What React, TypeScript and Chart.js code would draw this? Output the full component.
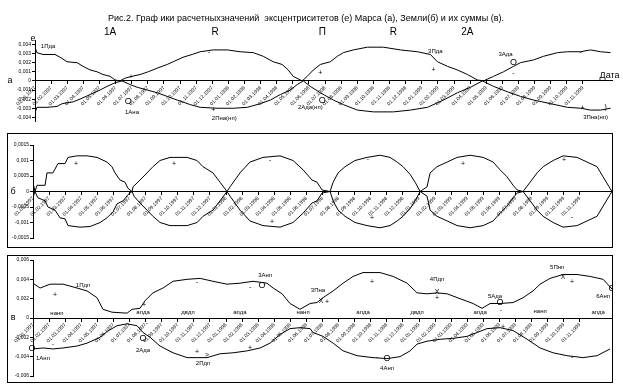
import { useEffect, useRef } from "react";
import { Chart, registerables } from "chart.js";
Chart.register(...registerables);

const FONT = "'Liberation Sans', Arial, sans-serif";

const titleText = "Рис.2. Граф ики расчетныхзначений  эксцентриситетов (е) Марса (а), Земли(б) и их суммы (в).";

const dateLabels = [
  "01.01.1997", "01.02.1997", "01.03.1997", "01.04.1997", "01.05.1997", "01.06.1997",
  "01.07.1997", "01.08.1997", "01.09.1997", "01.10.1997", "01.11.1997", "01.12.1997",
  "01.01.1998", "01.02.1998", "01.03.1998", "01.04.1998", "01.05.1998", "01.06.1998",
  "01.07.1998", "01.08.1998", "01.09.1998", "01.10.1998", "01.11.1998", "01.12.1998",
  "01.01.1999", "01.02.1999", "01.03.1999", "01.04.1999", "01.05.1999", "01.06.1999",
  "01.07.1999", "01.08.1999", "01.09.1999", "01.10.1999", "01.11.1999",
];

const yTicksA = [-0.004, -0.003, -0.002, -0.001, 0, 0.001, 0.002, 0.003, 0.004];
const yTicksB = [-0.0015, -0.001, -0.0005, 0, 0.0005, 0.001, 0.0015];
const yTicksC = [-0.006, -0.004, -0.002, 0, 0.002, 0.004, 0.006];

// Mars (a): [month, e]
const marsUpper: number[][] = [
  [0, 0.0037], [0.12, 0.0031], [0.5, 0.0029], [1.24, 0.0029], [1.55, 0.0026], [1.99, 0.0021], [2.61, 0.002],
  [2.98, 0.0016], [3.42, 0.0012], [3.85, 0.001], [4.22, 0.0007], [4.66, 0.0005], [4.97, 0.0001], [5.28, 0],
  [5.59, 0.0003], [6.02, 0.0005], [6.52, 0.0007], [7.02, 0.001], [7.58, 0.0014], [8.2, 0.0018], [8.57, 0.0021],
  [9.19, 0.0026], [9.75, 0.0029], [10.25, 0.0032], [11.06, 0.0034], [11.93, 0.0034], [12.73, 0.0032],
  [13.54, 0.0031], [14.16, 0.0027], [14.78, 0.0021], [15.34, 0.0018], [15.71, 0.0012], [16.02, 0.0005],
  [16.46, 0.0001], [16.58, 0], [16.89, 0.0005], [17.27, 0.0012], [17.7, 0.0018], [18.32, 0.0021],
  [18.76, 0.0027], [19.13, 0.0031], [19.75, 0.0034], [20.62, 0.0037], [21.61, 0.0037], [22.67, 0.0034],
  [23.73, 0.0032], [24.53, 0.0029], [24.97, 0.0021], [25.59, 0.0016], [26.21, 0.0012], [26.83, 0.0007],
  [27.45, 0.0001], [27.83, 0], [28.45, 0.0005], [29.07, 0.001], [29.69, 0.0016], [30.12, 0.002],
  [30.93, 0.0023], [31.55, 0.0027], [32.42, 0.0031], [33.04, 0.0032], [33.85, 0.0032], [34.47, 0.0034],
  [35.09, 0.0032], [35.71, 0.0031],
];
const marsLower: number[][] = [
  [0, -0.0035], [0.12, -0.0029], [0.75, -0.0029], [1.37, -0.0028], [1.68, -0.0025], [2.36, -0.0023],
  [2.92, -0.0019], [3.42, -0.0015], [4.04, -0.001], [4.47, -0.0006], [4.97, -0.0002], [5.4, 0],
  [5.9, -0.0004], [6.34, -0.0007], [6.96, -0.001], [7.58, -0.0013], [8.2, -0.0017], [8.82, -0.0021],
  [9.63, -0.0026], [10.25, -0.0029], [11.3, -0.003], [12.3, -0.003], [13.17, -0.0029], [13.98, -0.0025],
  [14.6, -0.0021], [15.22, -0.0015], [15.84, -0.001], [16.27, -0.0004], [16.65, 0], [17.08, -0.0006],
  [17.7, -0.0013], [18.51, -0.0021], [19.13, -0.0026], [20, -0.0032], [20.99, -0.0034], [22.24, -0.0034],
  [23.29, -0.0032], [24.35, -0.0029], [25.34, -0.0021], [26.21, -0.0013], [27.02, -0.0007], [27.76, 0],
  [28.45, -0.0006], [29.32, -0.0012], [30.12, -0.0017], [30.93, -0.0021], [31.99, -0.0025], [33.04, -0.0029],
  [33.85, -0.003], [34.47, -0.0032], [35.09, -0.0032], [35.71, -0.003],
];

// Earth (б)
const earthUpper: number[][] = [
  [0, 0.0003], [0.12, 0], [0.25, 0.0002], [0.75, 0.0002], [0.87, 0.0006], [1.24, 0.0006], [1.55, 0.0009],
  [1.99, 0.0009], [2.18, 0.0011], [2.74, 0.00115], [3.36, 0.00115], [3.98, 0.0011], [4.6, 0.00095],
  [4.91, 0.0008], [5.1, 0.0006], [5.41, 0.00037], [5.72, 0.0003], [5.91, 0.0001], [6.16, 0],
  [6.22, 0.00015], [6.65, 0.00037], [7.09, 0.0006], [7.46, 0.0008], [7.9, 0.001], [8.52, 0.0011],
  [9.58, 0.0011], [10.2, 0.001], [10.57, 0.0008], [11.19, 0.0006], [11.63, 0.0003], [12.06, 0],
  [12.25, 0.00015], [12.87, 0.0006], [13.49, 0.00095], [14.3, 0.0011], [15.36, 0.00115], [16.17, 0.001],
  [16.79, 0.0007], [17.35, 0.00037], [17.66, 0.0003], [17.97, 0.00005], [18.47, 0],
  [18.66, 0.0003], [18.97, 0.0006], [19.4, 0.0008], [20.02, 0.001], [20.77, 0.0011], [21.58, 0.00117],
  [22.2, 0.0011], [22.64, 0.00095], [23.01, 0.0008], [23.45, 0.00055], [23.76, 0.0003], [24.07, 0],
  [24.5, 0.00015], [24.69, 0.0006], [25.12, 0.0008], [25.75, 0.00095], [26.37, 0.0011], [27.18, 0.00117],
  [27.99, 0.0011], [28.61, 0.00095], [29.04, 0.0007], [29.48, 0.00047], [29.85, 0.0002], [30.1, 0.00005],
  [30.47, 0], [30.91, 0.0003], [31.34, 0.0006], [31.72, 0.0008], [32.34, 0.001], [32.96, 0.00115],
  [33.83, 0.0011], [34.45, 0.00095], [35.07, 0.0008], [35.45, 0.00047], [35.88, 0.0001], [36, 0],
];
const earthLower: number[][] = [
  [0, -0.0002], [0.12, 0], [0.3, -0.0002], [0.75, -0.0003], [0.93, -0.0005], [1.37, -0.0006], [1.68, -0.00085],
  [1.99, -0.00088], [2.18, -0.0011], [2.92, -0.00115], [3.55, -0.00113], [4.17, -0.001], [4.6, -0.00085],
  [4.98, -0.00065], [5.22, -0.0004], [5.6, -0.0003], [5.91, -0.0001], [6.16, 0],
  [6.28, -0.00015], [6.65, -0.00037], [7.09, -0.0006], [7.46, -0.0008], [7.9, -0.001], [8.52, -0.0011],
  [9.58, -0.0011], [10.2, -0.001], [10.57, -0.0008], [11.19, -0.0006], [11.63, -0.0003], [12.06, 0],
  [12.25, -0.00015], [12.87, -0.0006], [13.49, -0.00095], [14.3, -0.0011], [15.36, -0.00115], [16.17, -0.001],
  [16.79, -0.0007], [17.35, -0.00037], [17.66, -0.0003], [17.97, -0.00005], [18.47, 0],
  [18.66, -0.0003], [18.97, -0.0006], [19.4, -0.0008], [20.02, -0.001], [20.77, -0.0011], [21.58, -0.00117],
  [22.2, -0.0011], [22.64, -0.00095], [23.01, -0.0008], [23.45, -0.00055], [23.76, -0.0003], [24.07, 0],
  [24.5, -0.00015], [24.69, -0.0006], [25.12, -0.0008], [25.75, -0.00095], [26.37, -0.0011], [27.18, -0.00117],
  [27.99, -0.0011], [28.61, -0.00095], [29.04, -0.0007], [29.48, -0.00047], [29.85, -0.0002], [30.1, -0.00005],
  [30.47, 0], [30.91, -0.0003], [31.34, -0.0006], [31.72, -0.0008], [32.34, -0.001], [32.96, -0.00115],
  [33.83, -0.0011], [34.45, -0.00095], [35.07, -0.0008], [35.45, -0.00047], [35.88, -0.0001], [36, 0],
];

// Sum (в)
const sumUpper: number[][] = [
  [0, 0.0036], [0.44, 0.0031], [1.06, 0.0035], [1.87, 0.0035], [2.74, 0.0031], [3.36, 0.0028], [3.98, 0.0021],
  [4.35, 0.0009], [4.91, 0.0006], [5.85, 0.0005], [6.16, 0.0009], [6.65, 0.001], [6.97, 0.0018], [7.46, 0.0026],
  [8.08, 0.0031], [8.71, 0.0038], [9.58, 0.004], [10.39, 0.0041], [11.19, 0.0038], [12.06, 0.0035],
  [12.87, 0.0036], [13.68, 0.0038], [14.55, 0.0036], [14.93, 0.0031], [15.49, 0.0025], [15.98, 0.0015],
  [16.6, 0.0009], [17.23, 0.0015], [17.66, 0.0016], [18.03, 0.0021], [18.66, 0.0028], [19.28, 0.0036],
  [19.9, 0.0043], [20.52, 0.0047], [21.58, 0.0047], [22.39, 0.0043], [23.26, 0.0036], [23.88, 0.0026],
  [24.5, 0.0025], [25.12, 0.0026], [25.75, 0.0025], [26.55, 0.002], [27.36, 0.0015], [27.92, 0.001],
  [28.42, 0.0015], [29.04, 0.0015], [29.85, 0.0016], [30.47, 0.0021], [31.09, 0.0028], [31.53, 0.0035],
  [32.15, 0.0041], [32.96, 0.0045], [33.83, 0.0045], [34.64, 0.0043], [35.45, 0.004], [36, 0.003],
];
const sumLower: number[][] = [
  [0, -0.0032], [0.62, -0.0031], [1.24, -0.0032], [1.87, -0.0031], [2.74, -0.0029], [3.36, -0.0026],
  [4.17, -0.002], [4.6, -0.0014], [5.22, -0.0008], [5.85, -0.0006], [6.47, -0.0008], [6.84, -0.0015],
  [7.28, -0.002], [7.9, -0.0029], [8.71, -0.0036], [9.58, -0.0041], [10.82, -0.0041], [11.63, -0.0037],
  [12.44, -0.0036], [13.31, -0.0034], [14.12, -0.0031], [14.74, -0.0026], [15.36, -0.0017], [15.98, -0.0011],
  [16.6, -0.001], [17.23, -0.0011], [17.41, -0.0015], [18.03, -0.0019], [18.66, -0.0026], [19.28, -0.0034],
  [20.15, -0.0039], [21.14, -0.0041], [22.01, -0.0042], [22.82, -0.004], [23.45, -0.0034], [23.88, -0.0027],
  [24.5, -0.0024], [25.31, -0.0022], [26.12, -0.0021], [26.99, -0.0019], [27.61, -0.0015], [28.23, -0.0011],
  [29.04, -0.001], [29.85, -0.0013], [30.72, -0.0022], [31.53, -0.0031], [32.34, -0.0036], [33.21, -0.0039],
  [34.2, -0.0041], [35.07, -0.0039], [35.88, -0.0032],
];

type Note = { t: number; v: number; text: string };

const notesA: Note[] = [
  { t: 4.66, v: 0.0053, text: "1А" }, { t: 11.18, v: 0.0053, text: "R" }, { t: 17.83, v: 0.0053, text: "П" },
  { t: 22.24, v: 0.0053, text: "R" }, { t: 26.83, v: 0.0053, text: "2А" },
  { t: -1.55, v: 0, text: "а" }, { t: -0.12, v: 0.0047, text: "е" }, { t: 35.65, v: 0.0006, text: "Дата" },
  { t: 0.81, v: 0.0038, text: "1Пда" }, { t: 5.96, v: 0.00045, text: "+" }, { t: 5.78, v: -0.0023, text: "O" },
  { t: 6.02, v: -0.0034, text: "1Ана" }, { t: 10.8, v: 0.0032, text: "-" }, { t: 11.06, v: -0.0032, text: "+" },
  { t: 11.74, v: -0.0041, text: "2Пна(нп)" }, { t: 17.08, v: -0.0029, text: "2Ада(нп)" },
  { t: 17.83, v: -0.0021, text: "O" }, { t: 17.7, v: 0.0009, text: "+" }, { t: 24.84, v: 0.0032, text: "3Пда" },
  { t: 24.72, v: 0.0012, text: "+" }, { t: 29.19, v: 0.0029, text: "3Ада" }, { t: 29.69, v: 0.002, text: "O" },
  { t: 29.69, v: 0.0009, text: "-" }, { t: 33.85, v: 0.0032, text: "-" }, { t: 33.98, v: -0.003, text: "+" },
  { t: 35.4, v: -0.0029, text: ")" }, { t: 34.78, v: -0.004, text: "3Пна(нп)" },
];
const notesB: Note[] = [
  { t: -1.24, v: 0, text: "б" }, { t: 2.67, v: 0.00089, text: "+" }, { t: 8.77, v: 0.00089, text: "+" },
  { t: 14.74, v: 0.001, text: "-" }, { t: 20.83, v: 0.00105, text: "-" }, { t: 26.74, v: 0.0009, text: "+" },
  { t: 33.02, v: 0.001, text: "+" }, { t: 14.86, v: -0.00098, text: "+" }, { t: 21.08, v: -0.00085, text: "+" },
  { t: 33.52, v: -0.00082, text: "-" },
];
const notesC: Note[] = [
  { t: -1.24, v: 0, text: "в" },
  { t: 3.11, v: 0.0034, text: "1Пдп" }, { t: 1.37, v: 0.0024, text: "+" }, { t: 1.49, v: 0.0005, text: "нанп" },
  { t: -0.06, v: -0.0032, text: "O" }, { t: 0.62, v: -0.0042, text: "1Анп" }, { t: 1.24, v: -0.0027, text: "-" },
  { t: 6.84, v: 0.0006, text: "апда" }, { t: 6.9, v: 0.0013, text: "+" }, { t: 7.09, v: -0.0005, text: "-" },
  { t: 6.84, v: -0.0021, text: "O" }, { t: 6.84, v: -0.0033, text: "2Ада" },
  { t: 9.64, v: 0.0006, text: "двдп" }, { t: 10.2, v: 0.0037, text: "-" }, { t: 10.2, v: -0.0035, text: "+" },
  { t: 10.82, v: -0.0038, text: ">" }, { t: 10.57, v: -0.0047, text: "2Пдп" },
  { t: 12.87, v: 0.0006, text: "апда" }, { t: 13.5, v: 0.0032, text: "-" }, { t: 14.24, v: 0.0034, text: "O" },
  { t: 14.43, v: 0.0044, text: "3Анп" }, { t: 13.5, v: -0.0031, text: "+" },
  { t: 16.79, v: 0.0006, text: "нанп" }, { t: 17.72, v: 0.0029, text: "3Пна" }, { t: 17.91, v: 0.0018, text: "X" },
  { t: 18.28, v: 0.0016, text: "+" }, { t: 20.52, v: 0.0006, text: "апда" }, { t: 21.08, v: 0.0037, text: "+" },
  { t: 25.12, v: 0.004, text: "4Пдп" }, { t: 25.12, v: 0.0027, text: "X" }, { t: 25.12, v: 0.0021, text: "+" },
  { t: 23.88, v: 0.0006, text: "двдп" }, { t: 27.8, v: 0.0006, text: "апда" }, { t: 28.73, v: 0.0022, text: "5Ада" },
  { t: 29.04, v: 0.0016, text: "O" }, { t: 29.1, v: 0.0008, text: "-" }, { t: 31.53, v: 0.0007, text: "нанп" },
  { t: 32.59, v: 0.0052, text: "5Пнп" }, { t: 32.96, v: 0.0042, text: "X" }, { t: 33.52, v: 0.0037, text: "+" },
  { t: 35.45, v: 0.0022, text: "6Анп" }, { t: 36, v: 0.003, text: "O" }, { t: 35.14, v: 0.0006, text: "апда" },
  { t: 21.39, v: -0.004, text: "-" }, { t: 22.01, v: -0.0042, text: "O" }, { t: 22.01, v: -0.0052, text: "4Анп" },
  { t: 33.52, v: -0.004, text: "-" }, { t: 29.23, v: -0.0009, text: "+" },
];

const PHASES = ["1А", "R", "П", "2А"];
const AXNAMES = ["а", "е", "б", "в", "Дата"];
function noteSize(text: string) {
  if (PHASES.includes(text)) return 10;
  if (AXNAMES.includes(text)) return 9;
  if (text === "O") return 9;
  if (text.length === 1) return 7;
  return 6;
}

function fmt(v: number) {
  if (v === 0) return "0";
  return String(parseFloat(v.toFixed(4))).replace(".", ",");
}

function makeNotes(items: Note[]) {
  return {
    id: "notes",
    afterDraw(chart: any) {
      const { ctx } = chart;
      const xs = chart.scales.x;
      const ys = chart.scales.y;
      ctx.save();
      ctx.fillStyle = "#000";
      ctx.textAlign = "center";
      ctx.textBaseline = "middle";
      for (const n of items) {
        ctx.font = `${noteSize(n.text)}px ${FONT}`;
        ctx.fillText(n.text, xs.getPixelForValue(n.t), ys.getPixelForValue(n.v));
      }
      ctx.restore();
    },
  };
}

type PanelSpec = {
  upper: number[][];
  lower: number[][];
  yTicks: number[];
  yMin: number;
  yMax: number;
  xMax: number;
  yWidth: number;
  padding: { top: number; bottom: number; left: number; right: number };
  notes: Note[];
  title?: string;
};

function makeConfig(p: PanelSpec): any {
  const ds = (pts: number[][]) => ({
    data: pts.map(([t, e]) => ({ x: t, y: e })),
    borderColor: "#000",
    borderWidth: 1,
    pointRadius: 0,
    tension: 0,
    fill: false,
  });
  return {
    type: "line",
    data: { datasets: [ds(p.upper), ds(p.lower)] },
    options: {
      animation: false,
      responsive: false,
      events: [],
      layout: { padding: p.padding },
      plugins: {
        legend: { display: false },
        tooltip: { enabled: false },
        title: p.title
          ? {
              display: true,
              text: p.title,
              color: "#000",
              font: { size: 9, family: FONT, weight: "normal" },
              padding: { top: 13, bottom: 17 },
            }
          : { display: false },
      },
      scales: {
        x: {
          type: "linear",
          position: { y: 0 },
          min: 0,
          max: p.xMax,
          afterBuildTicks: (s: any) => {
            s.ticks = dateLabels.map((_, i) => ({ value: i }));
          },
          ticks: {
            autoSkip: false,
            minRotation: 45,
            maxRotation: 45,
            padding: 1,
            color: "#000",
            font: { size: 5, family: FONT },
            callback: (v: any) => dateLabels[v] ?? "",
          },
          grid: { drawOnChartArea: false, tickLength: 3, color: "#000" },
          border: { color: "#000", width: 1 },
        },
        y: {
          type: "linear",
          position: "left",
          min: p.yMin,
          max: p.yMax,
          afterFit: (s: any) => {
            s.width = p.yWidth;
          },
          afterBuildTicks: (s: any) => {
            s.ticks = p.yTicks.map((v) => ({ value: v }));
          },
          ticks: {
            padding: 1,
            color: "#000",
            font: { size: 5, family: FONT },
            callback: (v: any) => fmt(v),
          },
          grid: { drawOnChartArea: false, tickLength: 3, color: "#000" },
          border: { color: "#000", width: 1 },
        },
      },
    },
    plugins: [makeNotes(p.notes)],
  };
}

export default function App() {
  const refA = useRef<HTMLCanvasElement>(null);
  const refB = useRef<HTMLCanvasElement>(null);
  const refC = useRef<HTMLCanvasElement>(null);

  useEffect(() => {
    document.body.style.margin = "0";
    const charts: Chart[] = [];
    charts.push(
      new Chart(refA.current!, makeConfig({
        upper: marsUpper, lower: marsLower, yTicks: yTicksA, yMin: -0.0044, yMax: 0.0044,
        xMax: 35.8, yWidth: 35, padding: { top: 0, bottom: 9, left: 0, right: 11 },
        notes: notesA, title: titleText,
      }))
    );
    charts.push(
      new Chart(refB.current!, makeConfig({
        upper: earthUpper, lower: earthLower, yTicks: yTicksB, yMin: -0.0015, yMax: 0.0015,
        xMax: 36, yWidth: 25, padding: { top: 11, bottom: 9, left: 0, right: 0 }, notes: notesB,
      }))
    );
    charts.push(
      new Chart(refC.current!, makeConfig({
        upper: sumUpper, lower: sumLower, yTicks: yTicksC, yMin: -0.006, yMax: 0.006,
        xMax: 36, yWidth: 25, padding: { top: 4, bottom: 6, left: 0, right: 0 }, notes: notesC,
      }))
    );
    return () => charts.forEach((c) => c.destroy());
  }, []);

  return (
    <div style={{ position: "relative", width: 623, height: 387, background: "#fff" }}>
      <canvas ref={refA} width={623} height={130} style={{ position: "absolute", left: 0, top: 0, width: 623, height: 130 }} />
      <div style={{ position: "absolute", left: 7, top: 133, width: 604, height: 113, border: "1px solid #000" }}>
        <canvas ref={refB} width={604} height={113} style={{ display: "block", width: 604, height: 113 }} />
      </div>
      <div style={{ position: "absolute", left: 7, top: 255, width: 604, height: 126, border: "1px solid #000" }}>
        <canvas ref={refC} width={604} height={126} style={{ display: "block", width: 604, height: 126 }} />
      </div>
    </div>
  );
}
